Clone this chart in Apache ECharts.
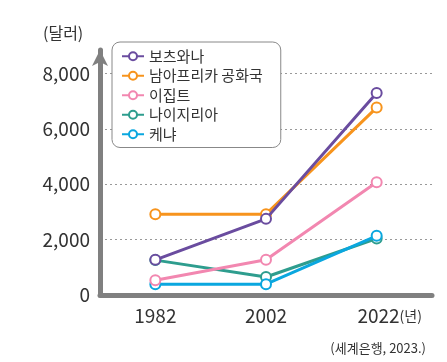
<!DOCTYPE html>
<html><head><meta charset="utf-8">
<script src="https://cdn.jsdelivr.net/npm/echarts@6/dist/echarts.min.js"></script>
<style>html,body{margin:0;padding:0;background:#fff}#c{width:447px;height:362px}</style>
</head><body><div id="c"></div>
<script>
const years = ['1982', '2002', '2022'];
const botswana = [1270, 2750, 7300];
const southAfrica = [2920, 2920, 6770];
const egypt = [530, 1270, 4070];
const nigeria = [1260, 650, 2040];
const kenya = [390, 390, 2140];
const yTicks = [0, 2000, 4000, 6000, 8000];
const names = ['보츠와나', '남아프리카 공화국', '이집트', '나이지리아', '케냐'];
const colors = ['#6a4c9f', '#f7941d', '#f287b0', '#2e9d8e', '#0aa7df'];
const F = 'Noto Sans CJK KR';

const chart = echarts.init(document.getElementById('c'));
const mk = (i, data, z) => ({
  name: names[i], type: 'line', data, z,
  color: colors[i],
  symbol: 'emptyCircle', symbolSize: 10,
  lineStyle: { width: 3, color: colors[i] },
  itemStyle: { color: colors[i], borderWidth: 2, borderColor: colors[i] },
  emphasis: { disabled: true }
});
chart.setOption({
  animation: false,
  textStyle: { fontFamily: F },
  title: [
    { text: '(달러)', left: 38, top: 20, textStyle: { fontFamily: F, fontSize: 16, fontWeight: 'normal', color: '#333' } },
    { text: '(세계은행, 2023.)', right: 16, bottom: 2, textStyle: { fontFamily: F, fontSize: 13, fontWeight: 'normal', color: '#333' } }
  ],
  grid: { left: 100, right: 15, top: 50, bottom: 67 },
  legend: {
    orient: 'vertical', left: 112, top: 42,
    data: names,
    backgroundColor: '#fff',
    borderColor: '#888', borderWidth: 1, borderRadius: 8,
    padding: [6, 18, 5, 9],
    itemWidth: 22, itemHeight: 10, itemGap: 3,
    textStyle: { fontFamily: F, fontSize: 15, color: '#333', lineHeight: 16.5 }
  },
  xAxis: {
    type: 'category', data: years, boundaryGap: true,
    axisLine: { lineStyle: { color: '#808080', width: 5 } },
    axisTick: { show: false },
    axisLabel: {
      margin: 11, fontFamily: F, fontSize: 19, color: '#333', interval: 0,
      formatter: (v, i) => i === years.length - 1 ? '{p|}' + v + '{u|(년)}' : v,
      rich: { p: { width: 26 }, u: { fontSize: 14, fontFamily: F, color: '#333' } }
    }
  },
  yAxis: {
    type: 'value', min: yTicks[0], max: 8850, interval: 2000,
    axisLine: { show: true, symbol: ['none', 'arrow'], symbolSize: [12, 16], lineStyle: { color: '#808080', width: 5 } },
    axisTick: { show: false },
    axisLabel: {
      margin: 10, fontFamily: F, fontSize: 19, color: '#333', showMaxLabel: false,
      formatter: v => yTicks.includes(v) ? v.toLocaleString('en-US') : ''
    },
    splitLine: { show: true, showMaxLine: false, lineStyle: { color: '#999', type: [2, 3], width: 1.2 } }
  },
  series: [
    mk(3, nigeria, 2),
    mk(4, kenya, 3),
    mk(2, egypt, 4),
    mk(1, southAfrica, 5),
    mk(0, botswana, 6)
  ]
});
</script></body></html>
